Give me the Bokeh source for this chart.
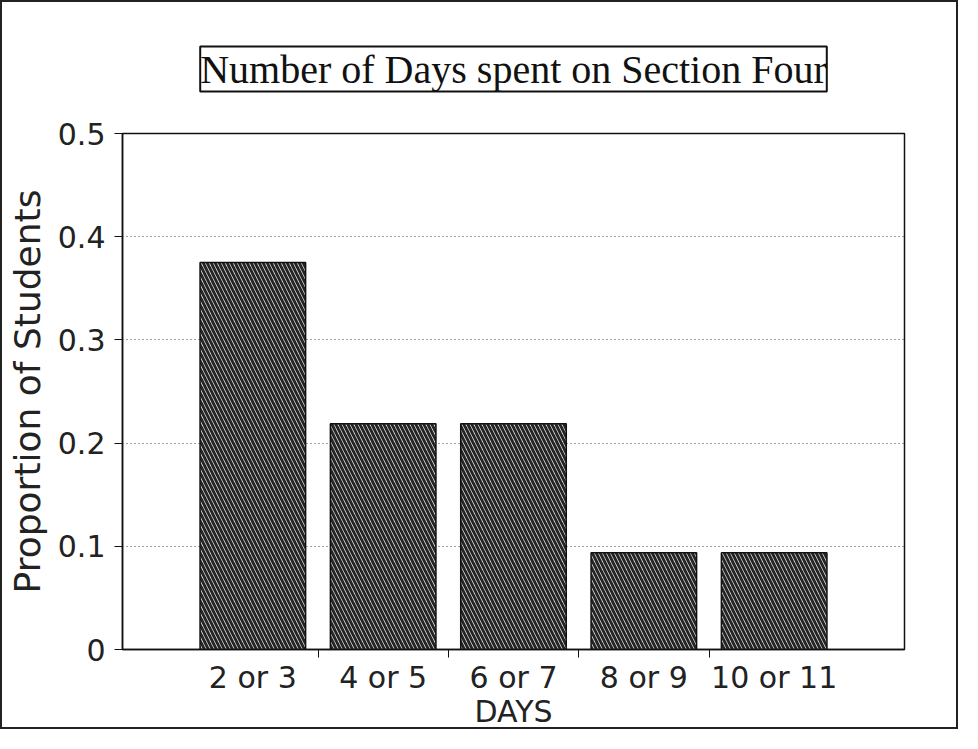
from bokeh.plotting import figure
from bokeh.models import Range1d, FixedTicker, ColumnDataSource
from bokeh.embed import file_html
from bokeh.resources import INLINE

categories = ["2 or 3", "4 or 5", "6 or 7", "8 or 9", "10 or 11"]
proportions = [0.375, 0.21875, 0.21875, 0.09375, 0.09375]
y_ticks = [0, 0.1, 0.2, 0.3, 0.4, 0.5]
y_tick_labels = ["0", "0.1", "0.2", "0.3", "0.4", "0.5"]
title_text = "Number of Days spent on Section Four"
x_label = "DAYS"
y_label = "Proportion of Students"

positions = [i + 1 for i in range(len(categories))]
source = ColumnDataSource(data=dict(x=positions, top=proportions, label=categories))

p = figure(width=958, height=729, output_backend="svg", toolbar_location=None,
           x_range=Range1d(0, len(categories) + 1), y_range=Range1d(0, 0.5),
           min_border_left=120, min_border_right=56, min_border_top=130, min_border_bottom=82)

p.styles = {"border": "2px solid #222"}

# Title in a box
p.title.text = title_text
p.title.align = "center"
p.title.text_font = "Liberation Serif"
p.title.text_font_size = "40px"
p.title.text_font_style = "normal"
p.title.text_color = "#111"
p.title.border_line_color = "#111"
p.title.border_line_width = 2
p.title.background_fill_color = "white"
p.title.standoff = 84

p.vbar(x="x", top="top", width=0.81, source=source,
       fill_color="white", line_color="#111", line_width=1.5,
       hatch_pattern="left_diagonal_line", hatch_color="#262626",
       hatch_weight=3, hatch_scale=8)

p.outline_line_color = "#111"
p.outline_line_width = 1.5
p.background_fill_color = "white"
p.border_fill_color = "white"

# Grid
p.xgrid.visible = False
p.ygrid.ticker = FixedTicker(ticks=y_ticks)
p.ygrid.grid_line_color = "#444"
p.ygrid.grid_line_dash = "1 3"
p.ygrid.grid_line_width = 1

# Y axis
ya = p.yaxis[0]
ya.ticker = FixedTicker(ticks=y_ticks)
ya.major_label_overrides = {t: s for t, s in zip(y_ticks, y_tick_labels)}
ya.major_tick_in = 0
ya.major_tick_out = 8
ya.minor_tick_line_color = None
ya.axis_line_color = "#111"
ya.axis_line_width = 1.5
ya.major_tick_line_color = "#111"
ya.major_label_text_font = "DejaVu Sans"
ya.major_label_text_font_size = "30px"
ya.major_label_text_color = "#222"
ya.major_label_standoff = 9
ya.axis_label = y_label
ya.axis_label_text_font = "DejaVu Sans"
ya.axis_label_text_font_size = "36px"
ya.axis_label_text_font_style = "normal"
ya.axis_label_text_color = "#222"
ya.axis_label_standoff = 7

# X axis: labels at bar centres, tick marks between bars
xa = p.xaxis[0]
xa.ticker = FixedTicker(ticks=positions, minor_ticks=[x + 0.5 for x in positions[:-1]])
xa.major_label_overrides = {x: c for x, c in zip(positions, categories)}
xa.major_tick_line_color = None
xa.major_tick_in = 0
xa.major_tick_out = 0
xa.minor_tick_in = 0
xa.minor_tick_out = 8
xa.minor_tick_line_color = "#111"
xa.axis_line_color = "#111"
xa.axis_line_width = 1.5
xa.major_label_text_font = "DejaVu Sans"
xa.major_label_text_font_size = "30px"
xa.major_label_text_color = "#222"
xa.major_label_standoff = 2
xa.axis_label = x_label
xa.axis_label_text_font = "DejaVu Sans"
xa.axis_label_text_font_size = "30px"
xa.axis_label_text_font_style = "normal"
xa.axis_label_text_color = "#222"
xa.axis_label_standoff = -4

open("out.html", "w").write(file_html(p, INLINE))
